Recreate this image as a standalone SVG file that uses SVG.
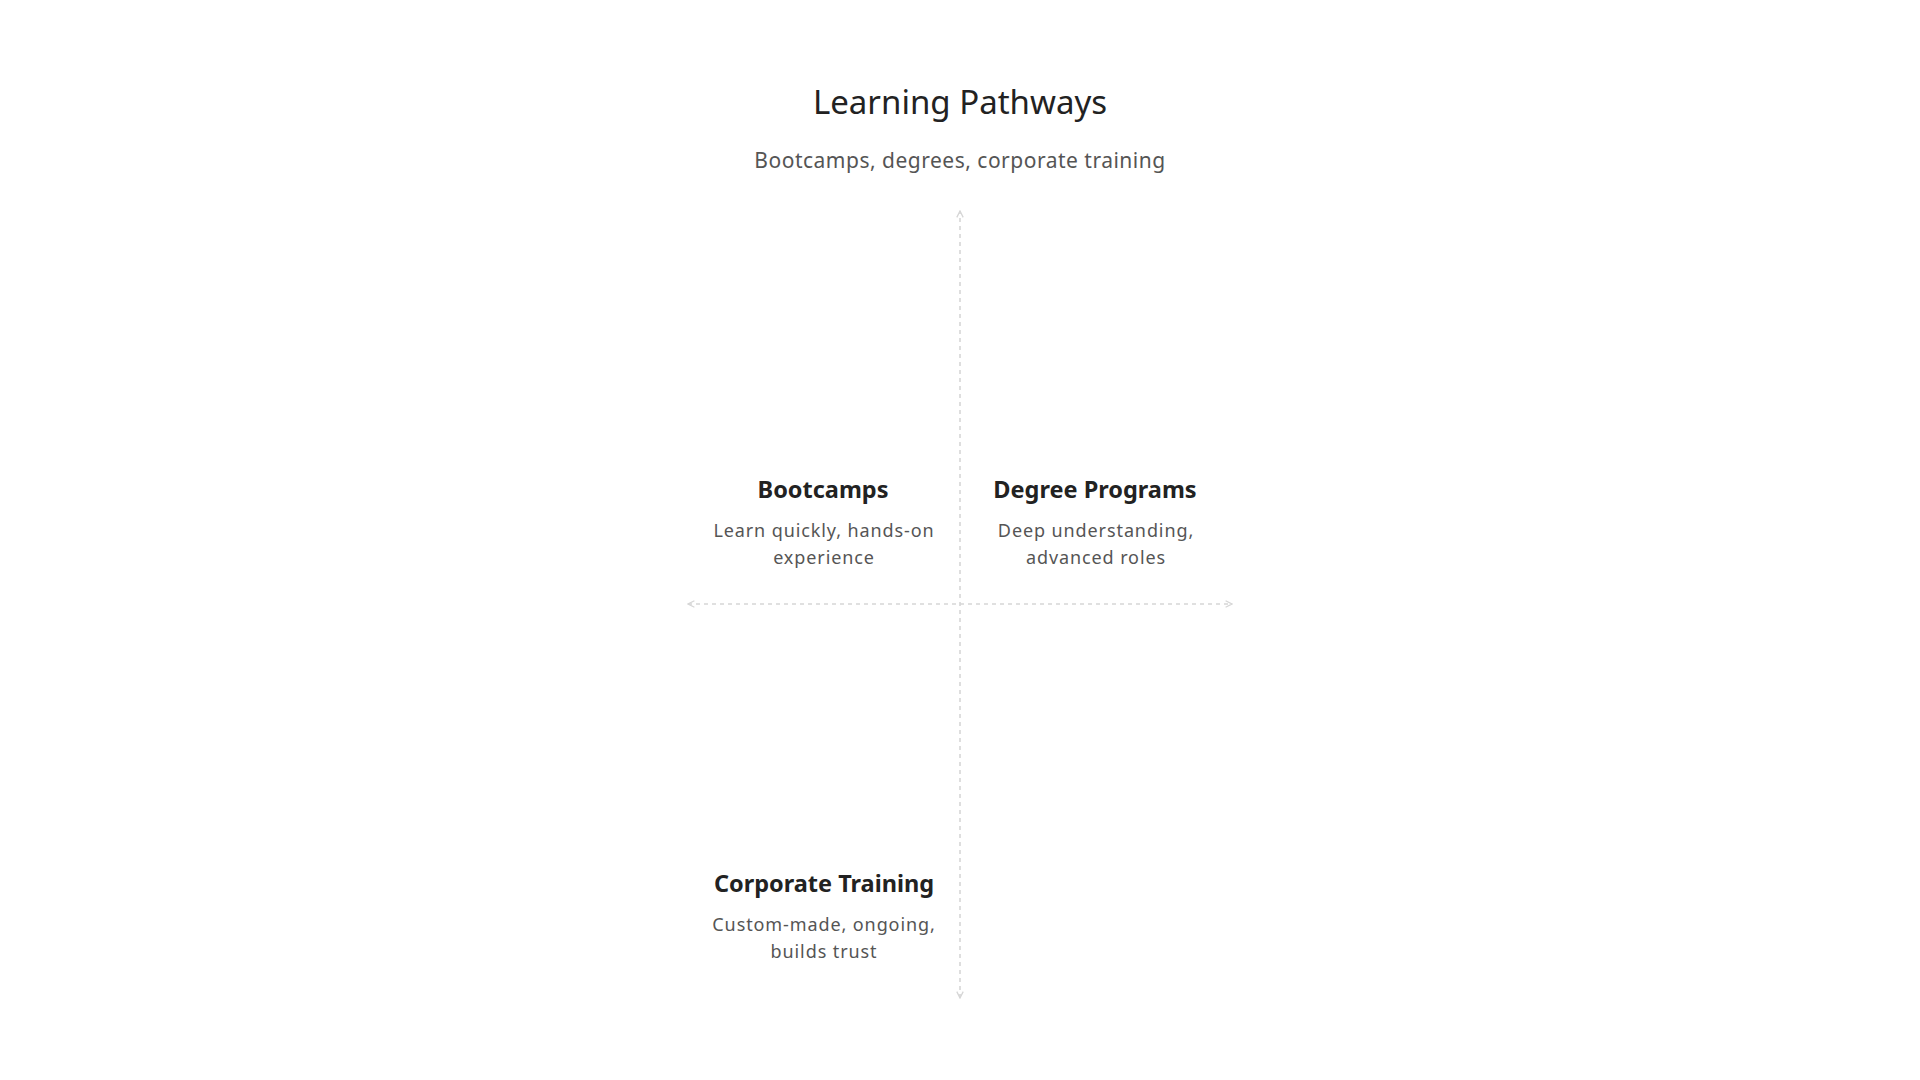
<svg xmlns="http://www.w3.org/2000/svg" width="1920" height="1080" viewBox="0 0 1920 1080">
<defs>
<style>
text{font-family:"Noto Sans","Open Sans","DejaVu Sans",sans-serif;text-anchor:middle}
.title{font-size:33px;fill:#222}
.sub{font-size:21px;fill:#555;letter-spacing:0.5px}
.nt{font-size:23.5px;font-weight:bold;fill:#222}
.nd{font-size:18px;fill:#555;letter-spacing:0.9px}
.axis{stroke:#d6d6d6;stroke-width:1.6;stroke-dasharray:4 4;fill:none}
</style>
<marker id="ah" viewBox="0 0 10 10" refX="9" refY="5" markerWidth="8" markerHeight="8" orient="auto-start-reverse" markerUnits="userSpaceOnUse">
<path d="M1,1 L9,5 L1,9" fill="none" stroke="#d6d6d6" stroke-width="1.6"/>
</marker>
</defs>
<rect width="1920" height="1080" fill="#fff"/>
<g id="header">
<text class="title" x="960" y="114">Learning Pathways</text>
<text class="sub" x="960" y="168">Bootcamps, degrees, corporate training</text>
</g>
<g id="connectors">
<line class="axis" x1="960" y1="998" x2="960" y2="211" marker-end="url(#ah)" marker-start="url(#ah)"/>
<line class="axis" x1="688" y1="604" x2="1232" y2="604" marker-end="url(#ah)" marker-start="url(#ah)"/>
</g>
<g id="bootcamps">
<text class="nt" x="823" y="498">Bootcamps</text>
<text class="nd" x="824" y="537">Learn quickly, hands-on</text>
<text class="nd" x="824" y="564">experience</text>
</g>
<g id="degree-programs">
<text class="nt" x="1095" y="498">Degree Programs</text>
<text class="nd" x="1096" y="537">Deep understanding,</text>
<text class="nd" x="1096" y="564">advanced roles</text>
</g>
<g id="corporate-training">
<text class="nt" x="824" y="892">Corporate Training</text>
<text class="nd" x="824" y="931">Custom-made, ongoing,</text>
<text class="nd" x="824" y="958">builds trust</text>
</g>
</svg>
